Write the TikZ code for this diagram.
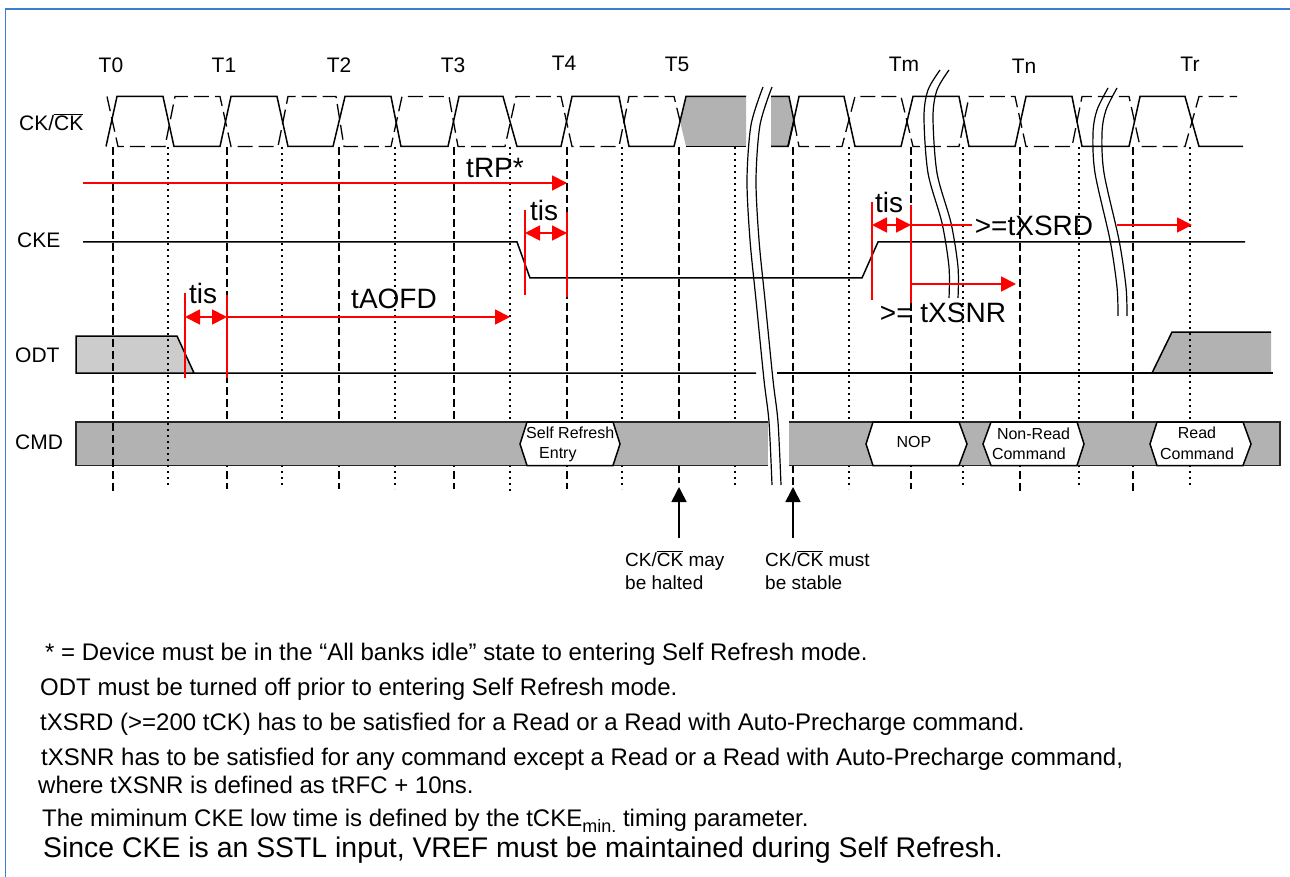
\documentclass[tikz,border=0pt]{standalone}
\usepackage{fontspec}
\setmainfont{Liberation Sans}
\usepackage{xcolor}
\usetikzlibrary{arrows.meta,positioning}
\definecolor{lightshade}{HTML}{CCCCCC}
\definecolor{darkshade}{HTML}{B2B2B2}
\definecolor{framecol}{HTML}{3A80D0}
\newcommand{\ckbar}{$\overline{\mbox{CK}}$}
\begin{document}
\begin{tikzpicture}[
  x=1pt, y=-1pt,
  wave/.style={draw, line width=1.5pt},
  wavedash/.style={draw, line width=1.3pt, dash pattern=on 15pt off 6pt},
  griddash/.style={draw, line width=1.1pt, dash pattern=on 8pt off 4pt},
  griddot/.style={draw, line width=1.1pt, dash pattern=on 2pt off 4pt},
  redbar/.style={draw=red, line width=1.5pt},
  redarr/.style={draw=red, line width=1.8pt, -{Triangle[length=15pt,width=15pt]}},
  redboth/.style={draw=red, line width=1.8pt, {Triangle[length=15pt,width=15pt]}-{Triangle[length=15pt,width=15pt]}},
  blackarr/.style={draw, line width=1.6pt, -{Triangle[length=15pt,width=15pt]}},
  breakline/.style={draw, line width=1.2pt},
  hexbox/.style={draw, fill=white, line width=1.5pt},
  sig/.style={inner sep=0pt, font=\fontsize{21}{24}\selectfont},
  tim/.style={inner sep=0pt, font=\fontsize{28}{30}\selectfont},
  cmdtxt/.style={inner sep=0pt, align=center, font=\fontsize{16}{20.5}\selectfont},
  remark/.style={inner sep=0pt, align=left, anchor=west, font=\fontsize{19}{23}\selectfont},
  note/.style={inner sep=0pt, anchor=base west, font=\fontsize{24}{28}\selectfont}
]
\useasboundingbox (0,0) rectangle (1290,877);
\draw[framecol, line width=1.5pt] (1290,9) -- (5.5,9) -- (5.5,877);

% shaded parts of ODT and CK
\fill[lightshade] (76,336) -- (177,336) -- (194,373) -- (76,373) -- cycle;
\fill[darkshade] (1152,373) -- (1172,332) -- (1271,332) -- (1271,373) -- cycle;
\fill[darkshade] (680,121) -- (686,96.5) -- (746,96.5) -- (746,146.5) -- (686,146.5) -- cycle;
\fill[darkshade] (771,96.5) -- (789,96.5) -- (794,121) -- (789,146.5) -- (771,146.5) -- cycle;

% clock edges
\foreach \x/\yb in {227/489,339/489,454/489,567/489,679/465,793/465,911/489,1020/492,1133/492}
  \draw[griddash] (\x,147) -- (\x,\yb);
\foreach \x/\yb in {282/488,395/489,510/492,622/489,735/487,849/489,963/488,1079/488,1190/488}
  \draw[griddot] (\x,147) -- (\x,\yb);
\draw[griddash] (679,465) -- (679,483);
\draw[griddash] (793,465) -- (793,485);

% CMD bus
\fill[darkshade] (76,422) rectangle (768,465.5);
\fill[darkshade] (789,422) rectangle (1280,465.5);
\draw[line width=1.5pt, draw=black!85] (768,422) -- (76,422) -- (76,465.5) -- (768,465.5);
\draw[line width=1.5pt, draw=black!85] (789,422) -- (1280,422) -- (1280,465.5) -- (789,465.5);
\foreach \xa/\xb/\xc/\xd in {520/527/613/620,866/873/959/967,983/991/1077/1084,1150/1157/1243/1251}
  \draw[hexbox] (\xa,444) -- (\xb,422) -- (\xc,422) -- (\xd,444) -- (\xc,465.5) -- (\xb,465.5) -- cycle;
\draw[griddash] (113,147) -- (113,492);
\draw[griddot] (168,147) -- (168,486);

% CK and its complement
\draw[wave] (106,146.5) -- (117,96.5) -- (163,96.5) -- (174,146.5) -- (220,146.5) -- (231,96.5) -- (277,96.5) -- (288,146.5) -- (333,146.5) -- (345,96.5) -- (391,96.5) -- (401,146.5) -- (448,146.5) -- (459,96.5) -- (503,96.5) -- (517,146.5) -- (561,146.5) -- (572,96.5) -- (619,96.5) -- (629,146.5) -- (674,146.5) -- (686,96.5) -- (746,96.5);
\draw[wave] (686,146.5) -- (746,146.5);
\draw[wave] (771,96.5) -- (789,96.5) -- (794,121) -- (788,146.5) -- (771,146.5);
\draw[wave] (788,146.5) -- (799,96.5) -- (844,96.5) -- (855,146.5) -- (901,146.5) -- (913,96.5) -- (959,96.5) -- (969,146.5) -- (1015,146.5) -- (1026,96.5) -- (1072,96.5) -- (1082,146.5) -- (1129,146.5) -- (1140,96.5) -- (1185,96.5) -- (1199,146.5) -- (1243,146.5);
\draw[wavedash] (107,96.5) -- (118,146.5) -- (165,146.5) -- (175,96.5) -- (220,96.5) -- (231,146.5) -- (278,146.5) -- (288,96.5) -- (336,96.5) -- (344,146.5) -- (391,146.5) -- (402,96.5) -- (449,96.5) -- (458,146.5) -- (505,146.5) -- (516,96.5) -- (561,96.5) -- (572,146.5) -- (619,146.5) -- (629,96.5) -- (674,96.5) -- (680,121);
\draw[wavedash] (794,121) -- (799,146.5) -- (842,146.5) -- (855,96.5) -- (901,96.5) -- (913,146.5) -- (959,146.5) -- (969,96.5) -- (1015,96.5) -- (1026,146.5) -- (1072,146.5) -- (1082,96.5) -- (1129,96.5) -- (1140,146.5) -- (1185,146.5) -- (1199,96.5) -- (1237,96.5);

% CKE and ODT
\draw[wave] (83,242) -- (517,242) -- (530,278) -- (862,278) -- (878,242) -- (1245,242);
\draw[wave] (194,373) -- (177,336) -- (76,336) -- (76,373) -- (756,373);
\draw[wave] (777,373) -- (1273,373);
\draw[wave] (1152,373) -- (1172,332) -- (1271,332);

% breaks
\foreach \dx in {0,9} {
  \draw[breakline, xshift=\dx] plot[smooth] coordinates {(763,87) (751,125) (747,180) (750,240) (756,300) (764,380) (769,422) (772,485)};
  \draw[breakline, xshift=\dx] plot[smooth] coordinates {(940,70) (928,90) (924,117) (928,173) (942,223) (949,267) (949,298)};
  \draw[breakline, xshift=\dx] plot[smooth] coordinates {(1108,88) (1097,110) (1093,133) (1095,173) (1110,240) (1117,287) (1118,316)};
}

\foreach \nm/\x/\y in {trpL/83/183, trpR/567/183,
    tisAa/185/293, tisAb/185/378, tisBa/227/295, tisBb/227/378, tisAL/185/317, tisAR/227/317, aofdR/510/317,
    tisCa/525/210, tisCb/525/295, tisDa/567/212, tisDb/567/297, tisCL/525/233, tisCR/567/233,
    tisEa/872/202, tisEb/872/300, tisFa/911/205, tisFb/911/303, tisEL/872/225, tisER/911/225,
    srdL/911/225, srdM/972/225, srdN/1117/225, srdR/1192/225, snrL/911/284, snrR/1016/284,
    haltA/679/538, haltB/679/487, stabA/793/538, stabB/793/487}
  \coordinate (\nm) at (\x,\y);

% timing arrows
\draw[redarr] (trpL) -- (trpR);
\foreach \a/\b in {tisAa/tisAb,tisBa/tisBb,tisCa/tisCb,tisDa/tisDb,tisEa/tisEb,tisFa/tisFb}
  \draw[redbar] (\a) -- (\b);
\draw[redboth] (tisAL) -- (tisAR);
\draw[redboth] (tisCL) -- (tisCR);
\draw[redboth] (tisEL) -- (tisER);
\draw[redarr] (tisAR) -- (aofdR);
\draw[redbar] (srdL) -- (srdM);
\draw[redarr] (srdN) -- (srdR);
\draw[redarr] (snrL) -- (snrR);
\draw[blackarr] (haltA) -- (haltB);
\draw[blackarr] (stabA) -- (stabB);

\node[sig] (t0) at (111,65) {T0};
\node[sig] (t1) at (224,65) {T1};
\node[sig] (t2) at (339,65) {T2};
\node[sig] (t3) at (453,65) {T3};
\node[sig] (t4) at (564,63) {T4};
\node[sig] (t5) at (677,64) {T5};
\node[sig] (tm) at (904,64) {Tm};
\node[sig] (tn) at (1024,66) {Tn};
\node[sig] (tr) at (1190,64) {Tr};

\node[sig, anchor=west] (ck) at (19,122) {CK/\ckbar};
\node[sig, anchor=west] (cke) at (17,240) {CKE};
\node[sig, anchor=west] (odt) at (15,355) {ODT};
\node[sig, anchor=west] (cmd) at (15,442) {CMD};

\node[tim] (trp) at (495,168) {tRP*};
\node[tim] (tisA) at (203,293) {tis};
\node[tim] (tisC) at (544,210) {tis};
\node[tim] (tisE) at (889,202) {tis};
\node[tim] (aofd) at (394,299) {tAOFD};
\node[tim] (srd) at (1034,226) {>=tXSRD};
\node[tim] (snr) at (943,313) {>= tXSNR};

\node[cmdtxt, align=left, anchor=west] (entry) at (526,444.5) {Self Refresh\\\hspace*{13pt}Entry};
\node[cmdtxt] (nop) at (914,442) {NOP};
\node[cmdtxt, align=left] (nonread) at (1031,444) {\hspace*{5pt}Non-Read\\Command};
\node[cmdtxt] (rd) at (1197,443.5) {Read\\Command};

\node[remark] (halt) at (625,570) {CK/\ckbar{} may\\be halted};
\node[remark] (stab) at (765,570) {CK/\ckbar{} must\\be stable};

\node[note] (n1) at (45,660) {* = Device must be in the “All banks idle” state to entering Self Refresh mode.};
\node[note] (n2) at (40,695) {ODT must be turned off prior to entering Self Refresh mode.};
\node[note] (n3) at (40,730) {tXSRD (>=200 tCK) has to be satisfied for a Read or a Read with Auto-Precharge command.};
\node[note] (n4) at (41,765) {tXSNR has to be satisfied for any command except a Read or a Read with Auto-Precharge command,};
\node[note] (n5) at (38,793) {where tXSNR is defined as tRFC + 10ns.};
\node[note] (n6) at (42,826) {The miminum CKE low time is defined by the tCKE\raisebox{-6pt}{\fontsize{18}{18}\selectfont min.} timing parameter.};
\node[note, font=\fontsize{28.4}{30}\selectfont] (n7) at (43,857.5) {Since CKE is an SSTL input, VREF must be maintained during Self Refresh.};
\end{tikzpicture}
\end{document}
